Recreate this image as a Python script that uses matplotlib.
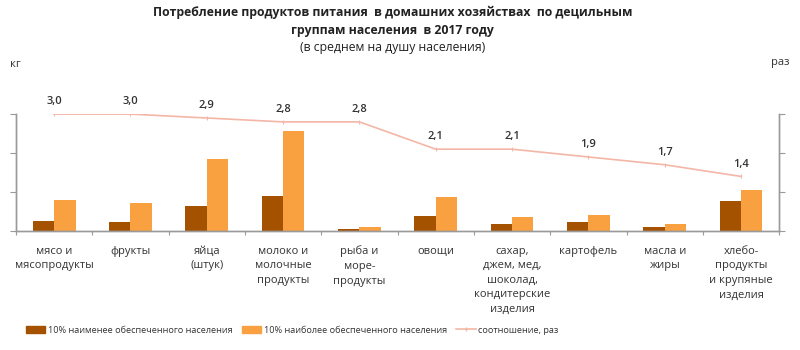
import matplotlib
matplotlib.use("Agg")
import matplotlib.pyplot as plt
import numpy as np
from matplotlib.lines import Line2D
from matplotlib.patches import Patch

plt.rcParams['font.family'] = ['Open Sans', 'DejaVu Sans']

categories = ["мясо и\nмясопродукты", "фрукты", "яйца\n(штук)",
              "молоко и\nмолочные\nпродукты", "рыба и\nморе-\nпродукты", "овощи",
              "сахар,\nджем, мед,\nшоколад,\nкондитерские\nизделия", "картофель",
              "масла и\nжиры", "хлебо-\nпродукты\nи крупяные\nизделия"]
poorest = [26, 23, 64, 90, 4, 38, 17, 22, 10, 77]
richest = [79, 71, 186, 256, 11, 87, 37, 42, 17, 106]
ratio = [3.0, 3.0, 2.9, 2.8, 2.8, 2.1, 2.1, 1.9, 1.7, 1.4]
ratio_labels = ["3,0", "3,0", "2,9", "2,8", "2,8", "2,1", "2,1", "1,9", "1,7", "1,4"]

legend_labels = ["10% наименее обеспеченного населения",
                 "10% наиболее обеспеченного населения",
                 "соотношение, раз"]

c_dark = "#A45200"
c_light = "#F9A040"
c_line = "#F4B6A6"
grey = "#9A9A9A"
txt = "#333333"

fig = plt.figure(figsize=(8, 3.5), dpi=100)
ax = fig.add_axes([0.02, 0.34, 0.954, 0.334])
ax2 = ax.twinx()

x = np.arange(len(categories))
w = 0.28
ax.bar(x - w / 2, poorest, width=w, color=c_dark, zorder=2)
ax.bar(x + w / 2, richest, width=w, color=c_light, zorder=2)
ax.set_xlim(-0.5, len(categories) - 0.5)
ax.set_ylim(0, 300)
ax.set_yticks([0, 100, 200, 300])
ax.set_yticklabels([])
ax.set_xticks(np.arange(len(categories) + 1) - 0.5, minor=False)
ax.set_xticklabels([])
ax.tick_params(axis='x', length=3, color=grey, direction='out')
ax.tick_params(axis='y', length=4, color=grey, direction='out')

for i, lab in enumerate(categories):
    ax.text(x[i], -0.125, lab, transform=ax.get_xaxis_transform(), ha='center', va='top',
            fontsize=8, color=txt, linespacing=1.45)

ax2.plot(x, ratio, color=c_line, lw=1.2, marker='|', ms=3, mew=0.8, zorder=3)
ax2.set_ylim(0, 3)
ax2.set_yticks([0, 1, 2, 3])
ax2.set_yticklabels([])
ax2.tick_params(axis='y', length=4, color=grey, direction='out')
for i, (v, s) in enumerate(zip(ratio, ratio_labels)):
    ax2.annotate(s, (x[i], v), xytext=(0, 5), textcoords='offset points',
                 ha='center', va='bottom', fontsize=8, color=txt, fontweight='semibold')

for a in (ax, ax2):
    a.spines['top'].set_visible(False)
    for sp in ('left', 'right', 'bottom'):
        a.spines[sp].set_color(grey)
        a.spines[sp].set_linewidth(1)

fig.text(0.491, 0.964, "Потребление продуктов питания  в домашних хозяйствах  по децильным",
         ha='center', va='center', fontsize=8.8, fontweight='bold', color='#222222')
fig.text(0.491, 0.912, "группам населения  в 2017 году",
         ha='center', va='center', fontsize=8.8, fontweight='bold', color='#222222')
fig.text(0.491, 0.864, "(в среднем на душу населения)",
         ha='center', va='center', fontsize=8.8, color='#222222')
fig.text(0.012, 0.815, "кг", ha='left', va='center', fontsize=8, color=txt)
fig.text(0.964, 0.82, "раз", ha='left', va='center', fontsize=8, color=txt)

handles = [Patch(color=c_dark), Patch(color=c_light),
           Line2D([0], [0], color=c_line, lw=1.2, marker='|', ms=3)]
fig.legend(handles, legend_labels, loc='center left', bbox_to_anchor=(0.027, 0.057), ncol=3,
           frameon=False, fontsize=6.6, handlelength=2.1, handleheight=0.8,
           handletextpad=0.3, columnspacing=1.0, labelcolor=txt, borderpad=0)

fig.savefig("out.png", dpi=100)
